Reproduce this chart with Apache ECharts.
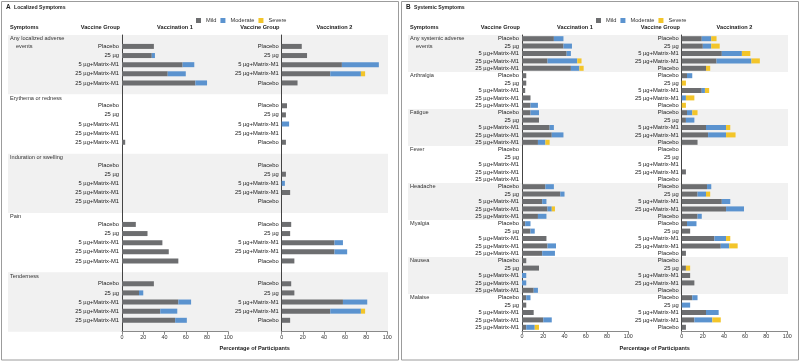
<!DOCTYPE html>
<html><head><meta charset="utf-8">
<script src="https://cdn.jsdelivr.net/npm/echarts@6/dist/echarts.min.js"></script>
<style>html,body{margin:0;padding:0;background:#fff}#c{width:800px;height:362px}</style>
</head><body><div id="c"></div>
<script>
// ---------- DATA ----------
const severities = ['Mild', 'Moderate', 'Severe'];
const localSymptoms = ['Any localized adverse\nevents', 'Erythema or redness', 'Induration or swelling', 'Pain', 'Tenderness'];
const systemicSymptoms = ['Any systemic adverse\nevents', 'Arthralgia', 'Fatigue', 'Fever', 'Headache', 'Myalgia', 'Nausea', 'Malaise'];
const groupsVac1 = ['Placebo', '25 µg', '5 µg+Matrix-M1', '25 µg+Matrix-M1', '25 µg+Matrix-M1'];
const groupsVac2 = ['Placebo', '25 µg', '5 µg+Matrix-M1', '25 µg+Matrix-M1', 'Placebo'];
const xTicks = [0, 20, 40, 60, 80, 100];

// Localized, vaccination 1 (5 rows per symptom)
const localV1Mild     = [30,28,57,43,69,  0,0,0,0,3,  0,0,0,0,0,  13,24,38,44,53,  30,16,53,36,50];
const localV1Moderate = [0,3,11,17,11,    0,0,0,0,0,  0,0,0,0,0,  0,0,0,0,0,       0,4,12,16,11];
const localV1Severe   = [0,0,0,0,0,       0,0,0,0,0,  0,0,0,0,0,  0,0,0,0,0,       0,0,0,0,0];
// Localized, vaccination 2
const localV2Mild     = [19,24,57,46,15,  5,4,0,0,4,  0,4,0,8,0,  9,8,50,50,12,    9,12,58,46,8];
const localV2Moderate = [0,0,35,29,0,     0,0,7,0,0,  0,0,3,0,0,  0,0,8,12,0,      0,0,23,29,0];
const localV2Severe   = [0,0,0,4,0,       0,0,0,0,0,  0,0,0,0,0,  0,0,0,0,0,       0,0,0,4,0];

// Systemic, vaccination 1
const sysV1Mild     = [30,39,42,24,46,  4,4,3,8,8,  8,16,26,28,15,  0,0,0,0,0,  22,36,19,24,15,  3,8,23,24,19,  4,16,0,0,11,  4,4,11,20,4];
const sysV1Moderate = [9,8,4,28,8,      0,0,0,0,7,  8,0,4,11,7,     0,0,0,0,0,  8,4,4,4,8,       5,4,0,8,12,    0,0,4,4,4,    4,0,0,8,8];
const sysV1Severe   = [0,0,0,4,4,       0,0,0,0,0,  0,0,0,0,4,      0,0,0,0,0,  0,0,0,3,0,       0,0,0,0,0,     0,0,0,0,0,    0,0,0,0,4];
// Systemic, vaccination 2
const sysV2Mild     = [19,20,38,33,23,  5,0,19,0,0,  5,4,23,25,15,  0,0,0,4,0,  24,15,38,42,15,  5,8,31,37,4,  0,4,8,12,0,  10,0,23,12,4];
const sysV2Moderate = [9,8,19,33,0,     5,0,3,4,0,   5,8,19,17,0,   0,0,0,0,0,  4,8,8,17,4,      9,0,11,8,0,   0,0,0,0,0,   5,8,12,17,0];
const sysV2Severe   = [5,8,8,8,4,       0,4,4,8,4,   5,0,4,9,0,     0,0,0,0,0,  0,4,0,0,0,       0,0,4,8,0,    0,4,0,0,0,   0,0,0,8,0];

// ---------- BUILD ----------
const FONT = "'Liberation Sans',Arial,sans-serif";
const COLORS = { Mild: '#6d6e70', Moderate: '#5b93cf', Severe: '#f3c52a' };

function makeAxis(nGroups, perGroup, barSlots, groupNames, prefix) {
  const cats = [], labels = [], pick = [];
  for (let g = 0; g < nGroups; g++) {
    for (let s = 0; s < perGroup; s++) {
      const k = barSlots.indexOf(s);
      cats.push(prefix + g + '_' + s);
      labels.push(k >= 0 ? groupNames[k] : '');
      pick.push(k >= 0 ? g * 5 + k : -1);
    }
  }
  return { cats, labels, pick };
}

const axA1 = makeAxis(5, 13, [2,4,6,8,10], groupsVac1, 'a1_');
const axA2 = makeAxis(5, 13, [2,4,6,8,10], groupsVac2, 'a2_');
const axB1 = makeAxis(8, 5, [0,1,2,3,4], groupsVac1, 'b1_');
const axB2 = makeAxis(8, 5, [0,1,2,3,4], groupsVac2, 'b2_');

const panels = [
  { ax: axA1, data: [localV1Mild, localV1Moderate, localV1Severe], grid: { left: 122, top: 35, width: 106.3, height: 296.7 } },
  { ax: axA2, data: [localV2Mild, localV2Moderate, localV2Severe], grid: { left: 281.7, top: 35, width: 105.6, height: 296.7 } },
  { ax: axB1, data: [sysV1Mild, sysV1Moderate, sysV1Severe], grid: { left: 522, top: 35, width: 106.3, height: 296 } },
  { ax: axB2, data: [sysV2Mild, sysV2Moderate, sysV2Severe], grid: { left: 681.7, top: 35, width: 105.6, height: 296 } }
];

const grid = [], xAxis = [], yAxis = [], series = [];
panels.forEach((p, i) => {
  grid.push(Object.assign({ containLabel: false }, p.grid));
  xAxis.push({
    type: 'value', gridIndex: i, min: xTicks[0], max: xTicks[xTicks.length - 1], interval: 20,
    axisLine: { show: true, lineStyle: { color: '#8a8a8a', width: 1 } },
    axisTick: { show: true, length: 3, lineStyle: { color: '#8a8a8a' } },
    splitLine: { show: false },
    axisLabel: { fontSize: 5.4, color: '#333', margin: 3.5, fontFamily: FONT }
  });
  yAxis.push({
    type: 'category', gridIndex: i, inverse: true, data: p.ax.cats,
    axisLine: { show: true, lineStyle: { color: '#444', width: 1 } },
    axisTick: { show: false },
    splitLine: { show: false },
    axisLabel: { interval: 0, fontSize: 5.8, color: '#222', margin: 3, fontFamily: FONT,
      formatter: (v, idx) => p.ax.labels[idx] }
  });
  severities.forEach((sev, si) => {
    series.push({
      type: 'bar', name: sev, xAxisIndex: i, yAxisIndex: i, stack: 'st' + i,
      barWidth: 5, itemStyle: { color: COLORS[sev] },
      data: p.ax.pick.map(k => (k >= 0 ? p.data[si][k] : '-'))
    });
  });
});

function txt(text, x, y, opts) {
  return {
    type: 'text', silent: true, z: 5,
    style: Object.assign({ text, x, y, fill: '#222', font: '5.6px ' + FONT, align: 'left', verticalAlign: 'middle' }, opts || {})
  };
}
const B = 'bold 5.6px ' + FONT;

const staticGraphics = [
  { type: 'rect', silent: true, z: -20, shape: { x: 1.5, y: 1.5, width: 397, height: 358.5 }, style: { fill: 'none', stroke: '#9c9c9c', lineWidth: 1 } },
  { type: 'rect', silent: true, z: -20, shape: { x: 401.5, y: 1.5, width: 397, height: 358.5 }, style: { fill: 'none', stroke: '#9c9c9c', lineWidth: 1 } },
  txt('A', 6, 7.5, { font: 'bold 6.4px ' + FONT }),
  txt('Localized Symptoms', 14, 7.5, { font: 'bold 5.2px ' + FONT }),
  txt('B', 406, 7.5, { font: 'bold 6.4px ' + FONT }),
  txt('Systemic Symptoms', 414, 7.5, { font: 'bold 5.2px ' + FONT }),
  txt('Symptoms', 10, 27, { font: B }),
  txt('Vaccine Group', 120, 27, { font: B, align: 'right' }),
  txt('Vaccination 1', 175, 27, { font: B, align: 'center' }),
  txt('Vaccine Group', 279.5, 27, { font: B, align: 'right' }),
  txt('Vaccination 2', 334.5, 27, { font: B, align: 'center' }),
  txt('Symptoms', 410, 27, { font: B }),
  txt('Vaccine Group', 520, 27, { font: B, align: 'right' }),
  txt('Vaccination 1', 575, 27, { font: B, align: 'center' }),
  txt('Vaccine Group', 680, 27, { font: B, align: 'right' }),
  txt('Vaccination 2', 734.5, 27, { font: B, align: 'center' }),
  txt('Percentage of Participants', 254.7, 348, { font: B, align: 'center' }),
  txt('Percentage of Participants', 654.7, 348, { font: B, align: 'center' })
];

const legendBase = {
  data: severities, icon: 'rect', itemWidth: 5, itemHeight: 5, itemGap: 4, top: 12.5,
  textStyle: { fontSize: 5.7, color: '#333', fontFamily: FONT }, selectedMode: false
};

const option = {
  animation: false,
  backgroundColor: '#fff',
  legend: [Object.assign({ left: 191 }, legendBase), Object.assign({ left: 591 }, legendBase)],
  grid, xAxis, yAxis, series,
  graphic: staticGraphics
};

const chart = echarts.init(document.getElementById('c'), null, { renderer: 'canvas' });
chart.setOption(option);

// shading bands and symptom labels, positioned through the category axes
const extra = [];
function addPanel(yAxisIndex, symptoms, perGroup, x0, x1, labelX, labelDy) {
  const c0 = chart.convertToPixel({ yAxisIndex }, 0);
  const c1 = chart.convertToPixel({ yAxisIndex }, 1);
  const slot = c1 - c0;
  symptoms.forEach((name, g) => {
    const first = chart.convertToPixel({ yAxisIndex }, g * perGroup);
    const last = chart.convertToPixel({ yAxisIndex }, g * perGroup + perGroup - 1);
    if (g % 2 === 0) {
      extra.push({ type: 'rect', silent: true, z: -10,
        shape: { x: x0, y: first - slot / 2, width: x1 - x0, height: last - first + slot },
        style: { fill: '#f1f1f1' } });
    }
    name.split('\n').forEach((line, li) => {
      extra.push(txt(line, labelX + (li > 0 ? 6 : 0), first + labelDy + li * 7.3, { fill: '#333' }));
    });
  });
}
addPanel(0, localSymptoms, 13, 8, 388, 10, 1.5);
addPanel(2, systemicSymptoms, 5, 408, 788, 410, 0);
chart.setOption({ graphic: staticGraphics.concat(extra) });
</script></body></html>
